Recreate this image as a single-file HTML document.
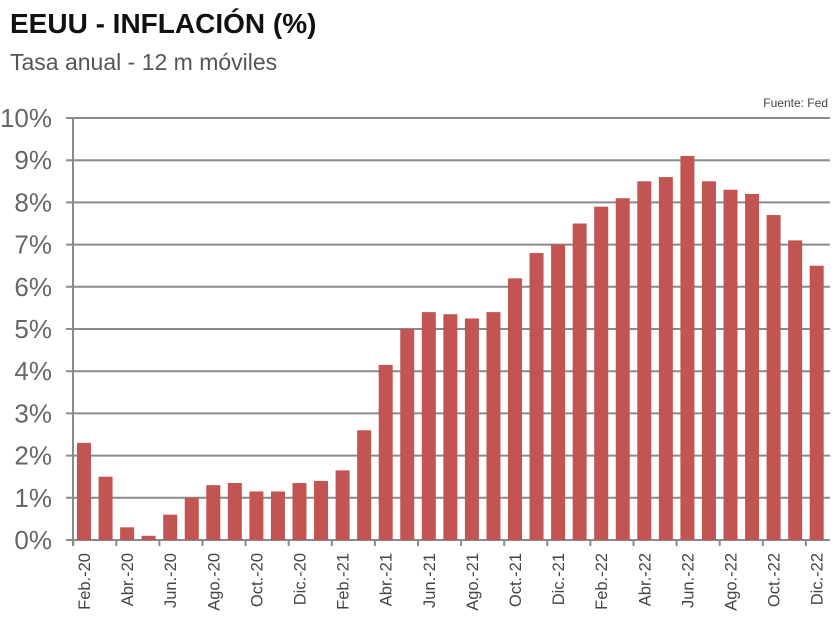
<!DOCTYPE html>
<html><head><meta charset="utf-8"><style>
body{margin:0;background:#fff;width:840px;height:628px;overflow:hidden}
</style></head><body>
<svg width="840" height="628" xmlns="http://www.w3.org/2000/svg" font-family="'Liberation Sans Narrow','Liberation Sans',sans-serif">
<text x="10" y="33" font-family="'Liberation Sans',sans-serif" font-weight="bold" font-size="28" fill="#111">EEUU - INFLACIÓN (%)</text>
<text x="10" y="70" font-family="'Liberation Sans',sans-serif" font-size="23" fill="#555">Tasa anual - 12 m móviles</text>
<text x="828" y="107" font-size="12" fill="#444" text-anchor="end">Fuente: Fed</text>
<g id="grid" stroke="#8a8a8a" stroke-width="2"></g>
<g id="bars" fill="#c25452"></g>
<g id="ylab" font-size="26" fill="#666" text-anchor="end" font-family="'Liberation Sans',sans-serif"></g>
<g id="xlab" font-size="16.5" fill="#444" text-anchor="end" font-family="'Liberation Sans',sans-serif"></g>
</svg>
<script>
const ns="http://www.w3.org/2000/svg";
function el(p,t,a,txt){const e=document.createElementNS(ns,t);for(const k in a)e.setAttribute(k,a[k]);if(txt)e.textContent=txt;document.getElementById(p).appendChild(e);}
const y0=540,s=42.2;
for(let i=0;i<=10;i++){const y=y0-i*s;el('grid','line',{x1:66,x2:830,y1:y,y2:y});el('ylab','text',{x:52,y:y+9},i+'%');}
el('grid','line',{x1:73,x2:73,y1:117,y2:546});
const v=[2.3,1.5,0.3,0.1,0.6,1.0,1.3,1.35,1.15,1.15,1.35,1.4,1.65,2.6,4.15,5.0,5.4,5.35,5.25,5.4,6.2,6.8,7.0,7.5,7.9,8.1,8.5,8.6,9.1,8.5,8.3,8.2,7.7,7.1,6.5];
const lab={0:'Feb.-20',2:'Abr.-20',4:'Jun.-20',6:'Ago.-20',8:'Oct.-20',10:'Dic.-20',12:'Feb.-21',14:'Abr.-21',16:'Jun.-21',18:'Ago.-21',20:'Oct.-21',22:'Dic.-21',24:'Feb.-22',26:'Abr.-22',28:'Jun.-22',30:'Ago.-22',32:'Oct.-22',34:'Dic.-22'};
v.forEach((d,i)=>{const c=84+21.55*i;el('bars','rect',{x:c-7,y:y0-d*s,width:14,height:d*s});
 if(lab[i]){el('xlab','text',{transform:`translate(${c+6},553) rotate(-90)`},lab[i]);
 el('grid','line',{x1:c-10.8,x2:c-10.8,y1:540,y2:546});}});
</script>
</body></html>
